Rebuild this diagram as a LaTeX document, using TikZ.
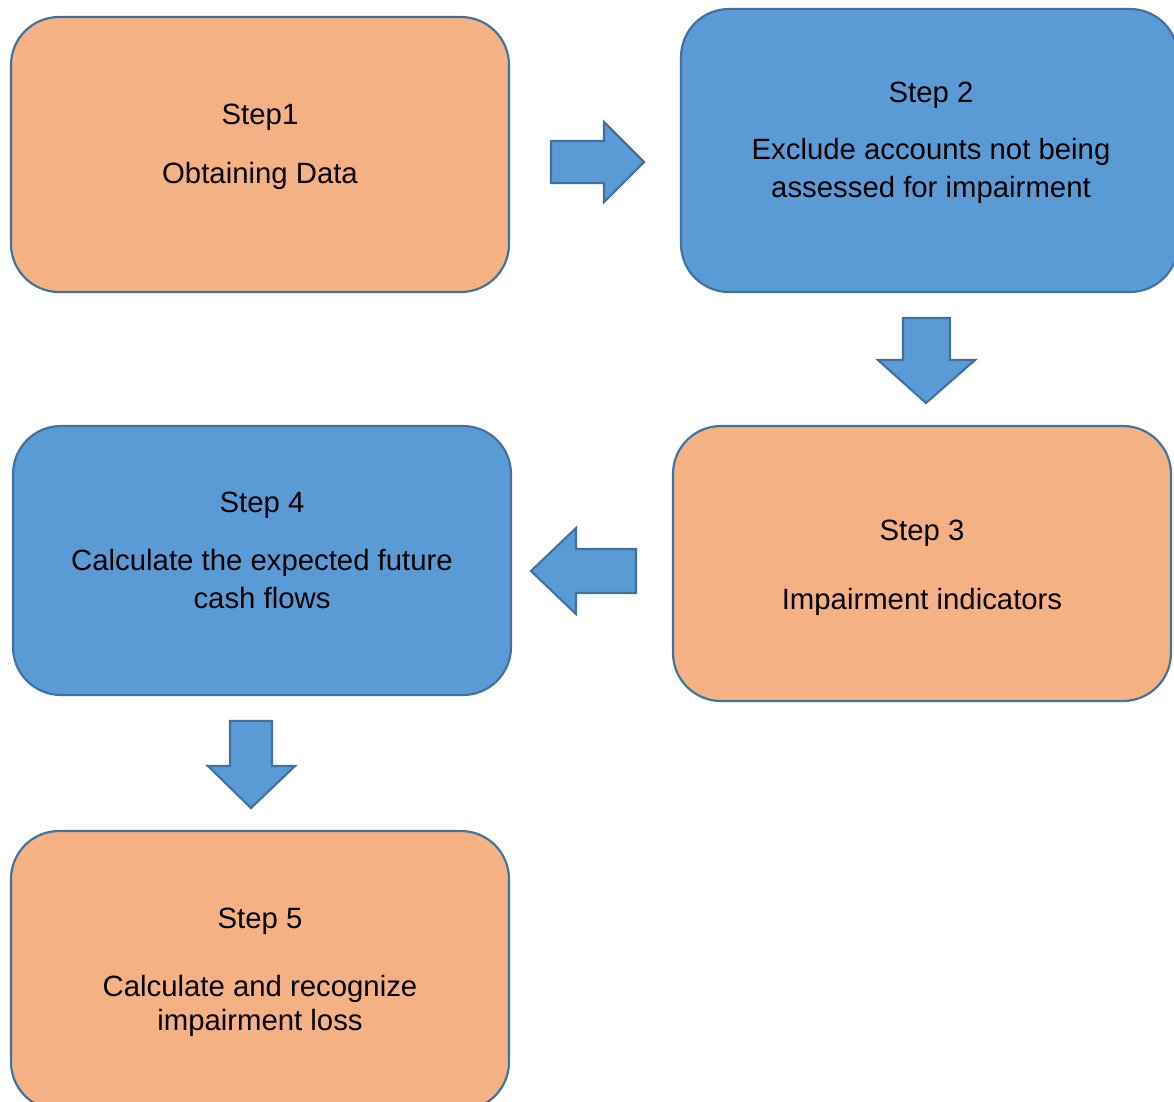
\documentclass[tikz,border=0pt]{standalone}
\usepackage{fontspec}
\setmainfont{Liberation Sans}
\definecolor{orangefill}{HTML}{F4B183}
\definecolor{bluefill}{HTML}{5B9BD5}
\definecolor{edgeblue}{HTML}{41719C}
\begin{document}
\begin{tikzpicture}[x=0.75pt,y=-0.75pt,
  boxbase/.style={draw=edgeblue, line width=1.6pt, rounded corners=36pt, minimum width=373.5pt, inner sep=0pt},
  orangebox/.style={boxbase, fill=orangefill},
  bluebox/.style={boxbase, fill=bluefill},
  blockarrow/.style={draw=edgeblue, line width=1.6pt, fill=bluefill, line join=miter},
  lbl/.style={anchor=base, inner sep=0pt, font=\fontsize{22pt}{26pt}\selectfont, text=black}]
\clip (0,0) rectangle (1174,1101);
\useasboundingbox (0,0) rectangle (1174,1101);
\fill[white] (0,0) rectangle (1174,1101);

\node[orangebox, minimum height=206.25pt] (b1) at (260,154.5) {};
\node[bluebox, minimum width=372.75pt, minimum height=212.25pt] (b2) at (929.5,150.5) {};
\node[orangebox, minimum height=206.25pt] (b3) at (922,563.5) {};
\node[bluebox, minimum height=201.75pt] (b4) at (262,560.5) {};
\node[orangebox, minimum height=209.25pt] (b5) at (260,970.5) {};

% block arrows
\draw[blockarrow] (551,141) -- (604,141) -- (604,122) -- (644,162) -- (604,202) -- (604,183) -- (551,183) -- cycle;
\draw[blockarrow] (903,318) -- (950,318) -- (950,360) -- (975,360) -- (926,403) -- (878,360) -- (903,360) -- cycle;
\draw[blockarrow] (636,549) -- (576,549) -- (576,528) -- (531,571) -- (576,614) -- (576,593) -- (636,593) -- cycle;
\draw[blockarrow] (230,721) -- (272,721) -- (272,766) -- (295,766) -- (251,808) -- (208,766) -- (230,766) -- cycle;

% texts
\node[lbl] (t1a) at (260,124.5) {Step1};
\node[lbl] (t1b) at (260,183.5) {Obtaining Data};
\node[lbl] (t2a) at (931,102.5) {Step 2};
\node[lbl] (t2b) at (931,159.5) {Exclude accounts not being};
\node[lbl] (t2c) at (931,197.5) {assessed for impairment};
\node[lbl] (t3a) at (922,540.5) {Step 3};
\node[lbl] (t3b) at (922,609.5) {Impairment indicators};
\node[lbl] (t4a) at (262,512.5) {Step 4};
\node[lbl] (t4b) at (262,570.5) {Calculate the expected future};
\node[lbl] (t4c) at (262,608.5) {cash flows};
\node[lbl] (t5a) at (260,928.5) {Step 5};
\node[lbl] (t5b) at (260,996.5) {Calculate and recognize};
\node[lbl] (t5c) at (260,1030.5) {impairment loss};
\end{tikzpicture}
\end{document}
